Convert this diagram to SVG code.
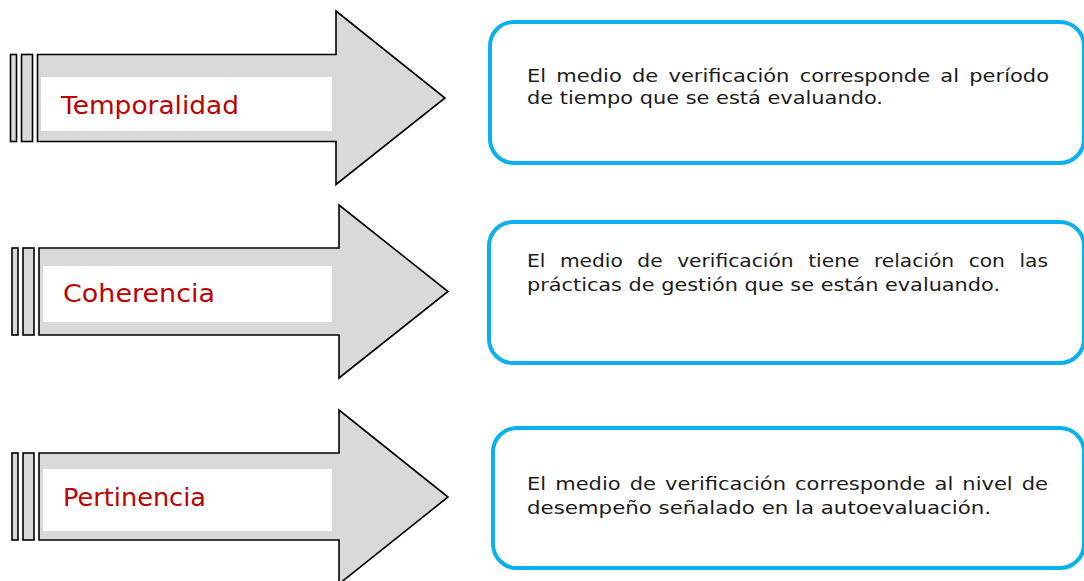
<svg xmlns="http://www.w3.org/2000/svg" width="1084" height="581" viewBox="0 0 1084 581">
<style>
.stripe{fill:#D9D9D9;stroke:#000;stroke-width:1.6}
.arrow{fill:#D9D9D9;stroke:#000;stroke-width:1.6;stroke-linejoin:miter}
.label-bg{fill:#FFFFFF}
.label{font-family:"DejaVu Sans","Liberation Sans",sans-serif;font-size:25px;fill:#C00000}
.box{fill:#FFFFFF;stroke:#0CB0EE;stroke-width:4}
.desc{font-family:"DejaVu Sans","Liberation Sans",sans-serif;font-size:17.5px;fill:#1A1A1A}
</style>
<rect width="1084" height="581" fill="#FFFFFF"/>
<g id="arrow-temporalidad">
<rect class="stripe" x="10.5" y="54.5" width="6" height="87"/>
<rect class="stripe" x="21.5" y="54.5" width="11" height="87"/>
<path class="arrow" d="M37.5,54.5 H336 V11 L445,98 L336,184.5 V141.5 H37.5 Z"/>
<rect class="label-bg" x="41" y="77" width="291" height="54"/>
<text class="label" x="61" y="114" textLength="178" lengthAdjust="spacingAndGlyphs">Temporalidad</text>
</g>
<g id="arrow-coherencia">
<rect class="stripe" x="12" y="248" width="6" height="87"/>
<rect class="stripe" x="23" y="248" width="11" height="87"/>
<path class="arrow" d="M39,248 H339 V205 L448,291.5 L339,378 V335 H39 Z"/>
<rect class="label-bg" x="43" y="266" width="289" height="56"/>
<text class="label" x="63" y="302" textLength="152" lengthAdjust="spacingAndGlyphs">Coherencia</text>
</g>
<g id="arrow-pertinencia">
<rect class="stripe" x="12" y="453" width="6" height="87"/>
<rect class="stripe" x="23" y="453" width="11" height="87"/>
<path class="arrow" d="M39,453 H339 V410 L448,497 L339,584 V540 H39 Z"/>
<rect class="label-bg" x="43" y="469" width="289" height="62"/>
<text class="label" x="63" y="506" textLength="143" lengthAdjust="spacingAndGlyphs">Pertinencia</text>
</g>
<g id="box-temporalidad">
<rect class="box" x="490" y="22" width="594" height="141" rx="24" ry="24"/>
<text class="desc" x="527" y="82" textLength="522" lengthAdjust="spacingAndGlyphs" word-spacing="3">El medio de verificación corresponde al período</text>
<text class="desc" x="527" y="104" textLength="356" lengthAdjust="spacingAndGlyphs">de tiempo que se está evaluando.</text>
</g>
<g id="box-coherencia">
<rect class="box" x="489" y="222" width="595" height="141" rx="24" ry="24"/>
<text class="desc" x="527" y="267" textLength="521" lengthAdjust="spacingAndGlyphs" word-spacing="7">El medio de verificación tiene relación con las</text>
<text class="desc" x="527" y="291" textLength="473" lengthAdjust="spacingAndGlyphs">prácticas de gestión que se están evaluando.</text>
</g>
<g id="box-pertinencia">
<rect class="box" x="493" y="428" width="591" height="140" rx="24" ry="24"/>
<text class="desc" x="527" y="490" textLength="521" lengthAdjust="spacingAndGlyphs" word-spacing="2">El medio de verificación corresponde al nivel de</text>
<text class="desc" x="527" y="514" textLength="464" lengthAdjust="spacingAndGlyphs">desempeño señalado en la autoevaluación.</text>
</g>
<g id="connectors"></g>
</svg>
